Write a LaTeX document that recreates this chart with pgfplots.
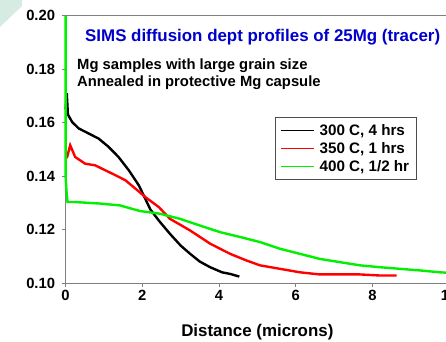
\documentclass[border=0pt]{standalone}
\usepackage{pgfplots}
\pgfplotsset{compat=1.18}
\usepackage{fontspec}
\setmainfont{Liberation Sans}
\definecolor{mint}{HTML}{D6EBE1}
\definecolor{ttl}{HTML}{0000CC}
\definecolor{ax}{HTML}{808080}
\definecolor{gr}{HTML}{00F000}
\definecolor{rd}{HTML}{FF0000}
\begin{document}
\begin{tikzpicture}[x=1pt,y=1pt]
\useasboundingbox (0,0) rectangle (446,341);
\fill[mint] (0,341) -- (22,341) -- (22,335) -- (0,314) -- cycle;
\begin{axis}[
  at={(65.6pt,58pt)}, anchor=south west,
  scale only axis, width=383.5pt, height=267.5pt,
  xmin=0, xmax=10, ymin=0.10, ymax=0.20,
  axis x line*=bottom, axis y line*=left,
  axis line style={ax, line width=1pt, -},
  xtick={0,2,4,6,8,10},
  ytick={0.10,0.12,0.14,0.16,0.18,0.20},
  tick align=outside, major tick length=4pt,
  tick style={ax, line width=1pt},
  /pgf/number format/assume math mode=true,
  yticklabel style={/pgf/number format/fixed, /pgf/number format/fixed zerofill, /pgf/number format/precision=2, xshift=-3pt},
  ticklabel style={font=\bfseries\fontsize{14.8}{16}\selectfont},
  xlabel={Distance (microns)},
  xlabel style={font=\bfseries\fontsize{16.9}{19}\selectfont, yshift=-16pt},
  clip=false,
  legend style={at={(rel axis cs:0.546,0.622)}, anchor=north west,
    draw=black!70, line width=0.8pt,
    nodes={font=\bfseries\fontsize{15.2}{17}\selectfont},
    row sep=1.5pt, column sep=3pt, inner xsep=5pt, inner ysep=5pt},
  legend cell align=left,
  legend image code/.code={\draw[#1, line width=1.2pt] (0pt,0pt) -- (33pt,0pt);},
]
\addplot[black, line width=2.4pt] coordinates {
(0,0.165) (0.03,0.171) (0.06,0.163) (0.17,0.1602) (0.34,0.1578) (0.6,0.1559)
(0.86,0.1540) (1.12,0.1509) (1.38,0.1471) (1.65,0.1421) (1.91,0.1365) (2.12,0.1302)
(2.21,0.1275) (2.45,0.1230) (2.72,0.1184) (3.0,0.1140) (3.24,0.1110)
(3.5,0.1080) (3.77,0.1059) (4.08,0.1040) (4.29,0.1034) (4.53,0.1024)};
\addlegendentry{300 C, 4 hrs}
\addplot[rd, line width=2.4pt] coordinates {
(0,0.1466) (0.04,0.1471) (0.12,0.1515) (0.25,0.1471) (0.51,0.1446)
(0.77,0.1440) (1.04,0.1421) (1.3,0.1403) (1.56,0.1384) (1.82,0.1353) (2.08,0.1321)
(2.43,0.1284) (2.72,0.1240) (3.24,0.1197) (3.77,0.1147) (4.29,0.1109) (4.72,0.1084)
(5.07,0.1066) (5.59,0.1053) (6.11,0.1040) (6.63,0.1032) (7.15,0.1032) (7.68,0.1032)
(8.2,0.1028) (8.63,0.1028)};
\addlegendentry{350 C, 1 hrs}
\addplot[gr, line width=2.4pt] coordinates {
(0,0.200) (0,0.140) (0.02,0.1350) (0.05,0.1303) (0.2,0.1303) (0.9,0.1297)
(1.42,0.1290) (1.94,0.1269) (2.46,0.1259) (2.98,0.1240) (3.5,0.1215) (4.03,0.1190)
(4.55,0.1172) (5.07,0.1153) (5.59,0.1128) (6.11,0.1109) (6.63,0.1090) (7.15,0.1078)
(7.68,0.1066) (8.2,0.1059) (8.72,0.1053) (9.24,0.1047) (9.76,0.1040) (10,0.1038)};
\addlegendentry{400 C, 1/2 hr}
\draw[ax, line width=1pt] (rel axis cs:0,1) -- (rel axis cs:1,1);
\end{axis}
\node[anchor=west, inner sep=0pt, text=ttl, font=\bfseries\fontsize{16.9}{19}\selectfont] at (85,304) {SIMS diffusion dept profiles of 25Mg (tracer)};
\node[anchor=west, inner sep=0pt, font=\bfseries\fontsize{14.8}{16}\selectfont] at (77,275) {Mg samples with large grain size};
\node[anchor=west, inner sep=0pt, font=\bfseries\fontsize{14.8}{16}\selectfont] at (77,258) {Annealed in protective Mg capsule};
\end{tikzpicture}
\end{document}
